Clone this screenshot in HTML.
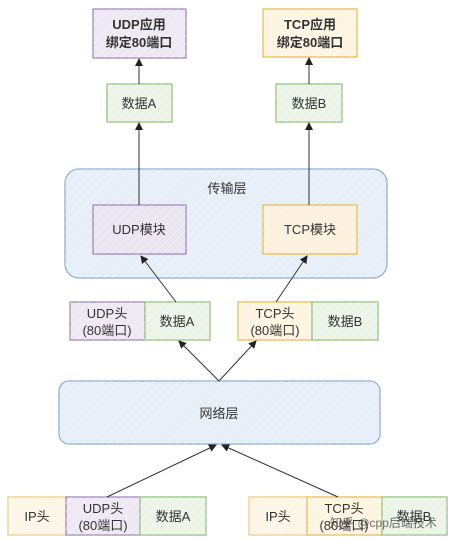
<!DOCTYPE html>
<html><head><meta charset="utf-8">
<style>
html,body{margin:0;padding:0;background:#fff;}
svg{display:block;}
text{font-family:"Liberation Sans","Noto Sans CJK SC",sans-serif;fill:#333;}
</style></head>
<body>
<svg width="454" height="539" viewBox="0 0 454 539" xmlns="http://www.w3.org/2000/svg">
<defs>
<pattern id="h" width="6" height="6" patternUnits="userSpaceOnUse" patternTransform="rotate(45)">
<line x1="0" y1="0" x2="0" y2="6" stroke="#ffffff" stroke-width="1.2" opacity="0.55"/>
</pattern>
<marker id="a" markerWidth="8" markerHeight="8" refX="7" refY="4" orient="auto" markerUnits="userSpaceOnUse">
<path d="M0,0 L8,4 L0,8 z" fill="#222"/>
</marker>
</defs>

<!-- transport layer -->
<rect x="65" y="169" width="322" height="109" rx="14" fill="#e6eef8" stroke="#93aed3" stroke-width="1.3"/>
<rect x="65" y="169" width="322" height="109" rx="14" fill="url(#h)"/>
<text x="227" y="193" font-size="13" text-anchor="middle">传输层</text>

<!-- network layer -->
<rect x="59" y="381" width="321" height="63" rx="10" fill="#e6eef8" stroke="#93aed3" stroke-width="1.3"/>
<rect x="59" y="381" width="321" height="63" rx="10" fill="url(#h)"/>
<text x="219" y="418" font-size="13" text-anchor="middle">网络层</text>

<g stroke-width="1.3">
<!-- top apps -->
<rect x="93" y="9" width="93" height="49" fill="#eee8f3" stroke="#a08bb6"/>
<rect x="263" y="9" width="94" height="48" fill="#fdf4e2" stroke="#e8bd55"/>
<!-- data A/B -->
<rect x="107" y="84" width="65" height="38" fill="#ebf4e6" stroke="#98c286"/>
<rect x="276" y="84" width="66" height="38" fill="#ebf4e6" stroke="#98c286"/>
<!-- modules -->
<rect x="93" y="205" width="93" height="49" fill="#ebe4f1" stroke="#a08bb6"/>
<rect x="263" y="205" width="94" height="49" fill="#fdf1dd" stroke="#e8bd55"/>
<!-- mid row -->
<rect x="70" y="302" width="75" height="38" fill="#eee8f3" stroke="#a08bb6"/>
<rect x="145" y="302" width="65" height="38" fill="#ebf4e6" stroke="#98c286"/>
<rect x="238" y="302" width="74" height="38" fill="#fdf4e2" stroke="#e8bd55"/>
<rect x="312" y="302" width="66" height="38" fill="#ebf4e6" stroke="#98c286"/>
<!-- bottom row -->
<rect x="8" y="497" width="58" height="38" fill="#fdf6e6" stroke="#e8cf85"/>
<rect x="66" y="497" width="74" height="38" fill="#eee8f3" stroke="#a08bb6"/>
<rect x="140" y="497" width="66" height="38" fill="#ebf4e6" stroke="#98c286"/>
<rect x="249" y="497" width="58" height="38" fill="#fdf6e6" stroke="#e8cf85"/>
<rect x="307" y="497" width="75" height="38" fill="#fdf4e2" stroke="#e8bd55"/>
<rect x="382" y="497" width="65" height="38" fill="#ebf4e6" stroke="#98c286"/>
</g>
<g fill="url(#h)">
<rect x="93" y="9" width="93" height="49"/><rect x="263" y="9" width="94" height="48"/>
<rect x="107" y="84" width="65" height="38"/><rect x="276" y="84" width="66" height="38"/>
<rect x="93" y="205" width="93" height="49"/><rect x="263" y="205" width="94" height="49"/>
<rect x="70" y="302" width="140" height="38"/><rect x="238" y="302" width="140" height="38"/>
<rect x="8" y="497" width="198" height="38"/><rect x="249" y="497" width="198" height="38"/>
</g>

<!-- texts -->
<g font-size="13" text-anchor="middle">
<text x="139" y="29" font-weight="bold" fill="#222">UDP应用</text>
<text x="139" y="47" font-weight="bold" fill="#222">绑定80端口</text>
<text x="310" y="29" font-weight="bold" fill="#222">TCP应用</text>
<text x="310" y="47" font-weight="bold" fill="#222">绑定80端口</text>
<text x="139" y="108">数据A</text>
<text x="309" y="108">数据B</text>
<text x="139" y="234">UDP模块</text>
<text x="310" y="234">TCP模块</text>
<text x="107" y="318">UDP头</text>
<text x="107" y="335">(80端口)</text>
<text x="177" y="326">数据A</text>
<text x="275" y="318">TCP头</text>
<text x="275" y="335">(80端口)</text>
<text x="345" y="326">数据B</text>
<text x="37" y="521">IP头</text>
<text x="103" y="513">UDP头</text>
<text x="103" y="530">(80端口)</text>
<text x="173" y="521">数据A</text>
<text x="278" y="521">IP头</text>
<text x="344" y="513">TCP头</text>
<text x="344" y="530">(80端口)</text>
<text x="414" y="521">数据B</text>
</g>
<text x="330" y="527" font-size="12" fill="#999" opacity="0.7">知乎 @cpp后端技术</text>

<!-- arrows -->
<g stroke="#333" stroke-width="1" fill="none" marker-end="url(#a)">
<line x1="139" y1="84" x2="139" y2="59"/>
<line x1="309" y1="84" x2="309" y2="58"/>
<line x1="139" y1="205" x2="139" y2="123"/>
<line x1="309" y1="205" x2="309" y2="123"/>
<line x1="176" y1="302" x2="141" y2="256"/>
<line x1="276" y1="302" x2="307" y2="256"/>
<line x1="219" y1="381" x2="179" y2="341"/>
<line x1="219" y1="381" x2="256" y2="341"/>
<line x1="107" y1="497" x2="216" y2="445"/>
<line x1="338" y1="497" x2="222" y2="445"/>
</g>
</svg>
</body></html>
